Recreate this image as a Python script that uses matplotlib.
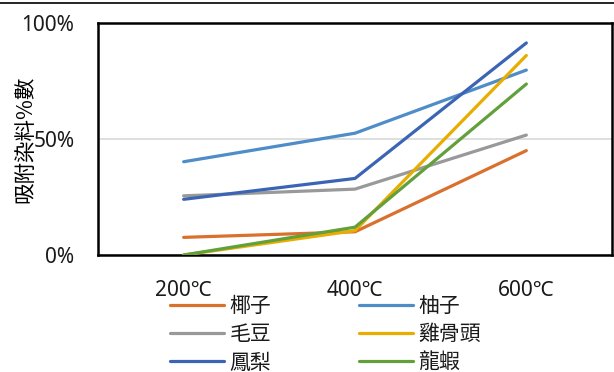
import matplotlib
matplotlib.use("Agg")
import matplotlib.pyplot as plt
from matplotlib.ticker import PercentFormatter

plt.rcParams['font.family'] = ['Noto Sans', 'Noto Sans CJK TC', 'DejaVu Sans']

temperatures = ["200℃", "400℃", "600℃"]
series_names = ["椰子", "柚子", "毛豆", "雞骨頭", "鳳梨", "龍蝦"]
coconut = [0.076, 0.10, 0.45]
pomelo = [0.402, 0.525, 0.797]
edamame = [0.255, 0.284, 0.517]
chicken_bone = [0.0, 0.105, 0.86]
pineapple = [0.24, 0.33, 0.914]
lobster = [0.0, 0.12, 0.737]
series_values = [coconut, pomelo, edamame, chicken_bone, pineapple, lobster]
colors = ["#D9702C", "#4E8DC7", "#999999", "#E8AD00", "#3B65B4", "#62A03C"]

W, H = 614, 372
fig = plt.figure(figsize=(W / 100, H / 100), dpi=100)
ax = fig.add_axes([98 / W, (H - 255) / H, (612 - 98) / W, (255 - 23) / H])

x = range(len(temperatures))
handles = []
for name, vals, c in zip(series_names, series_values, colors):
    h, = ax.plot(x, vals, color=c, lw=2.3, solid_capstyle='round', label=name, zorder=3)
    handles.append(h)

ax.set_xlim(-0.5, 2.5)
ax.set_ylim(0, 1)
ax.set_yticks([0, 0.5, 1.0])
ax.yaxis.set_major_formatter(PercentFormatter(1.0, decimals=0))
ax.set_xticks(list(x))
ax.set_xticklabels(temperatures)
ax.tick_params(axis='both', length=0, labelsize=15, colors='#1a1a1a')
ax.tick_params(axis='x', pad=18)
ax.tick_params(axis='y', pad=17)
ax.grid(axis='y', color='#D9D9D9', lw=1.2, zorder=1)
for s in ax.spines.values():
    s.set_color('black')
    s.set_linewidth(1.8)

ax.set_ylabel("吸附染料%數", fontsize=15.5, family=['Noto Sans CJK TC', 'DejaVu Sans'])
ax.yaxis.set_label_coords((36 - 98) / 514, 0.5)

# thin rule along the top of the chart area
fig.add_artist(plt.Line2D([0, 1], [1 - 2.5 / H, 1 - 2.5 / H], color='black', lw=1.2,
                          transform=fig.transFigure))

# two-column legend filled row by row
order = [0, 2, 4, 1, 3, 5]
leg = fig.legend([handles[i] for i in order], [series_names[i] for i in order],
                 ncol=2, loc='upper left', bbox_to_anchor=(170 / W, 1 - 295 / H),
                 frameon=False, prop={'family': ['Noto Sans CJK TC', 'DejaVu Sans'], 'size': 15},
                 handlelength=2.6, handletextpad=0.25, borderpad=0,
                 columnspacing=4.2, labelspacing=0.3, borderaxespad=0)
for t in leg.get_texts():
    t.set_color('#1a1a1a')

fig.savefig("out.png", dpi=100)
